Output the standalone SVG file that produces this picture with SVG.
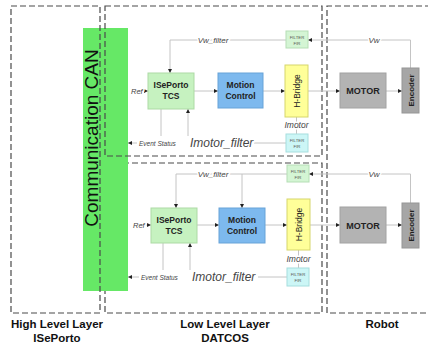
<svg xmlns="http://www.w3.org/2000/svg" width="428" height="345" viewBox="0 0 428 345">
<style>
.dash{fill:none;stroke:#4a4a4a;stroke-width:1.2;stroke-dasharray:6 3}
.conn{fill:none;stroke:#c4c4c4;stroke-width:1}
.lbl{font-family:'Liberation Sans',Arial,sans-serif;font-style:italic;fill:#444;paint-order:stroke;stroke:#fff;stroke-width:3px}
.bt{font-family:'Liberation Sans',Arial,sans-serif;font-weight:bold;fill:#222;text-anchor:middle}
.ft{font-family:'Liberation Sans',Arial,sans-serif;font-size:4.3px;fill:#555;text-anchor:middle}
.layer{font-family:'Liberation Sans',Arial,sans-serif;font-weight:bold;font-size:11.5px;fill:#111;text-anchor:middle}
.tcs{fill:#c6f2c0;stroke:#addaa5}
.mc{fill:#7db9ee;stroke:#68a3d8}
.hb{fill:#ffff99;stroke:#d6d66c}
.mot{fill:#b3b3b3;stroke:#a2a2a2}
.enc{fill:#a6a6a6;stroke:#969696}
.fg{fill:#d4f5d4;stroke:#b5deb5}
.fc{fill:#ccf6f6;stroke:#a6dede}
</style>
<defs>
<marker id="ah" viewBox="0 0 6 6" refX="6" refY="3" markerWidth="4" markerHeight="4" orient="auto"><path d="M0,0 L6,3 L0,6 z" fill="#222"/></marker>
</defs>
<rect width="428" height="345" fill="#fff"/>

<g id="layers">
<rect class="dash" x="105" y="163" width="217" height="150"/>
<g id="can">
<rect x="83" y="28" width="45" height="263" fill="#66e866"/>
<text transform="rotate(-90 98 138)" x="98" y="138" font-family="'Liberation Sans',Arial,sans-serif" font-size="19" fill="#111" text-anchor="middle">Communication CAN</text>
</g>
<rect class="dash" x="11" y="6" width="89" height="307"/>
<rect class="dash" x="105" y="6" width="217" height="150"/>
<path class="dash" d="M440,6 H327 V313 H440"/>
<text class="layer" x="57" y="328">High Level Layer</text>
<text class="layer" x="57" y="342">ISePorto</text>
<text class="layer" x="225" y="328">Low Level Layer</text>
<text class="layer" x="225" y="342">DATCOS</text>
<text class="layer" x="382" y="328">Robot</text>
</g>

<g id="connectors">
<!-- upper -->
<path class="conn" d="M410.5,68 V40 H308" marker-end="url(#ah)"/>
<path class="conn" d="M286,40 H170 V73" marker-end="url(#ah)"/>
<path class="conn" d="M194,91 H218" marker-end="url(#ah)"/>
<path class="conn" d="M263,91 H285" marker-end="url(#ah)"/>
<path class="conn" d="M308,91 H340" marker-end="url(#ah)"/>
<path class="conn" d="M386,91 H402" marker-end="url(#ah)"/>
<path class="conn" d="M142,91 H148" marker-end="url(#ah)"/>
<path class="conn" d="M161,109 V136"/>
<path class="conn" d="M137,143 H128" marker-end="url(#ah)"/>
<path class="conn" d="M296.5,117 V134"/>
<path class="conn" d="M286,143 H254"/>
<path class="conn" d="M188,136 V109" marker-end="url(#ah)"/>
<!-- lower -->
<path class="conn" d="M410.5,203 V174 H309" marker-end="url(#ah)"/>
<path class="conn" d="M287,174 H176 V208" marker-end="url(#ah)"/>
<path class="conn" d="M242,174 V208" marker-end="url(#ah)"/>
<path class="conn" d="M197,225 H219" marker-end="url(#ah)"/>
<path class="conn" d="M265,225 H287" marker-end="url(#ah)"/>
<path class="conn" d="M310,225 H340" marker-end="url(#ah)"/>
<path class="conn" d="M386,225 H402" marker-end="url(#ah)"/>
<path class="conn" d="M145,225 H151" marker-end="url(#ah)"/>
<path class="conn" d="M163,243 V270"/>
<path class="conn" d="M139,277 H128" marker-end="url(#ah)"/>
<path class="conn" d="M298.5,250 V268"/>
<path class="conn" d="M287,277 H258"/>
<path class="conn" d="M190,270 V243" marker-end="url(#ah)"/>
<!-- labels -->
<text class="lbl" x="374" y="43" font-size="8" text-anchor="middle">Vw</text>
<text class="lbl" x="213" y="43" font-size="8" text-anchor="middle">Vw_filter</text>
<text class="lbl" x="131" y="93.5" font-size="7.5">Ref</text>
<text class="lbl" x="139" y="145.5" font-size="6.5">Event Status</text>
<text class="lbl" x="296.5" y="128" font-size="8.5" text-anchor="middle">Imotor</text>
<text class="lbl" x="190" y="147" font-size="12">Imotor_filter</text>
<text class="lbl" x="374" y="177" font-size="8" text-anchor="middle">Vw</text>
<text class="lbl" x="213" y="177" font-size="8" text-anchor="middle">Vw_filter</text>
<text class="lbl" x="133" y="227.5" font-size="7.5">Ref</text>
<text class="lbl" x="141" y="279.5" font-size="6.5">Event Status</text>
<text class="lbl" x="298.5" y="262" font-size="8.5" text-anchor="middle">Imotor</text>
<text class="lbl" x="192" y="281" font-size="12">Imotor_filter</text>
</g>

<g id="tcs1"><rect class="tcs" x="148" y="73" width="46" height="36"/><text class="bt" x="171" y="88" font-size="8.5">ISePorto</text><text class="bt" x="171" y="99" font-size="8.5">TCS</text></g>
<g id="mc1"><rect class="mc" x="218" y="73" width="45" height="35"/><text class="bt" x="240.5" y="88" font-size="8.5">Motion</text><text class="bt" x="240.5" y="99" font-size="8.5">Control</text></g>
<g id="hb1"><rect class="hb" x="285" y="65" width="23" height="52"/><text transform="rotate(-90 299.5 91)" x="299.5" y="91" font-family="'Liberation Sans',Arial,sans-serif" font-size="8.5" fill="#222" text-anchor="middle">H-Bridge</text></g>
<g id="motor1"><rect class="mot" x="340" y="73" width="46" height="35"/><text class="bt" x="363" y="94" font-size="9">MOTOR</text></g>
<g id="enc1"><rect class="enc" x="402" y="68" width="17" height="45"/><text class="bt" transform="rotate(-90 413.5 90.5)" x="413.5" y="90.5" font-size="8">Encoder</text></g>
<g id="fvw1"><rect class="fg" x="286" y="31" width="22" height="17"/><text class="ft" x="297" y="38.5">FILTER</text><text class="ft" x="297" y="44.5">FIR</text></g>
<g id="fim1"><rect class="fc" x="286" y="134" width="22" height="18"/><text class="ft" x="297" y="141.5">FILTER</text><text class="ft" x="297" y="147.5">FIR</text></g>

<g id="tcs2"><rect class="tcs" x="151" y="208" width="46" height="35"/><text class="bt" x="174" y="223" font-size="8.5">ISePorto</text><text class="bt" x="174" y="234" font-size="8.5">TCS</text></g>
<g id="mc2"><rect class="mc" x="219" y="208" width="46" height="35"/><text class="bt" x="242" y="223" font-size="8.5">Motion</text><text class="bt" x="242" y="234" font-size="8.5">Control</text></g>
<g id="hb2"><rect class="hb" x="287" y="199" width="23" height="51"/><text transform="rotate(-90 301.5 224.5)" x="301.5" y="224.5" font-family="'Liberation Sans',Arial,sans-serif" font-size="8.5" fill="#222" text-anchor="middle">H-Bridge</text></g>
<g id="motor2"><rect class="mot" x="340" y="207" width="46" height="36"/><text class="bt" x="363" y="228.5" font-size="9">MOTOR</text></g>
<g id="enc2"><rect class="enc" x="402" y="203" width="17" height="45"/><text class="bt" transform="rotate(-90 413.5 225.5)" x="413.5" y="225.5" font-size="8">Encoder</text></g>
<g id="fvw2"><rect class="fg" x="287" y="165" width="22" height="17"/><text class="ft" x="298" y="172.5">FILTER</text><text class="ft" x="298" y="178.5">FIR</text></g>
<g id="fim2"><rect class="fc" x="287" y="268" width="22" height="18"/><text class="ft" x="298" y="275.5">FILTER</text><text class="ft" x="298" y="281.5">FIR</text></g>
</svg>
